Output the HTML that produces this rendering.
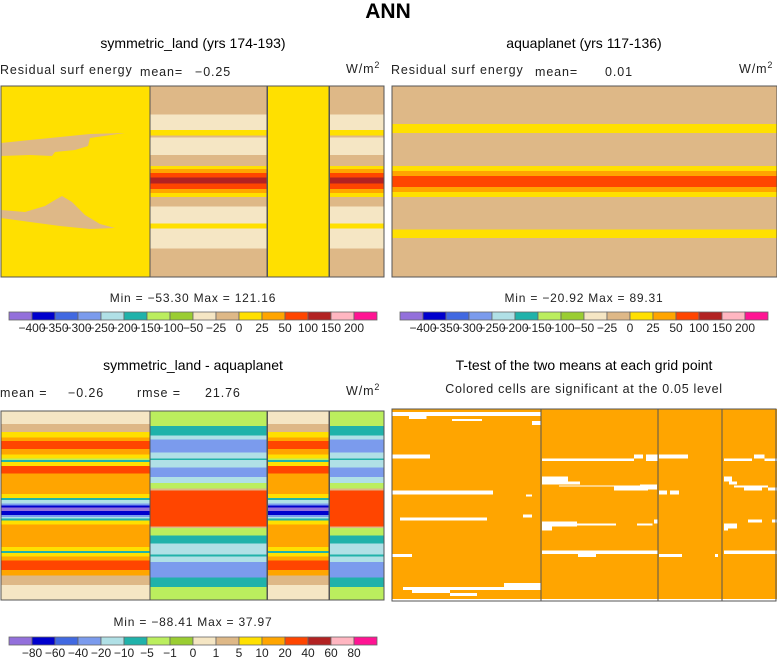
<!DOCTYPE html>
<html><head><meta charset="utf-8"><style>
html,body{margin:0;padding:0;background:#fff;}
svg{display:block;font-family:"Liberation Sans",sans-serif;}
</style></head><body>
<svg id="fig" width="777" height="660" viewBox="0 0 777 660" xmlns="http://www.w3.org/2000/svg">
<text x="388" y="18" text-anchor="middle" font-size="21" font-weight="bold">ANN</text>
<text x="193" y="48" text-anchor="middle" font-size="14">symmetric_land (yrs 174-193)</text>
<text x="0" y="74" font-size="12.5" letter-spacing="0.9" fill="#222">Residual surf energy</text>
<text x="140" y="76" font-size="12.5" letter-spacing="0.9" fill="#222">mean=</text>
<text x="195" y="76" font-size="12.5" letter-spacing="0.9" fill="#222">−0.25</text>
<text x="346" y="73" font-size="12.5" letter-spacing="0.9" fill="#222">W/m<tspan dy="-5" font-size="9">2</tspan></text>
<text x="584" y="48" text-anchor="middle" font-size="14">aquaplanet (yrs 117-136)</text>
<text x="391" y="74" font-size="12.5" letter-spacing="0.9" fill="#222">Residual surf energy</text>
<text x="535" y="76" font-size="12.5" letter-spacing="0.9" fill="#222">mean=</text>
<text x="605" y="76" font-size="12.5" letter-spacing="0.9" fill="#222">0.01</text>
<text x="739" y="73" font-size="12.5" letter-spacing="0.9" fill="#222">W/m<tspan dy="-5" font-size="9">2</tspan></text>
<text x="193" y="370" text-anchor="middle" font-size="14">symmetric_land - aquaplanet</text>
<text x="0" y="397" font-size="12.5" letter-spacing="0.9" fill="#222">mean =</text>
<text x="68" y="397" font-size="12.5" letter-spacing="0.9" fill="#222">−0.26</text>
<text x="137" y="397" font-size="12.5" letter-spacing="0.9" fill="#222">rmse =</text>
<text x="205" y="397" font-size="12.5" letter-spacing="0.9" fill="#222">21.76</text>
<text x="346" y="395" font-size="12.5" letter-spacing="0.9" fill="#222">W/m<tspan dy="-5" font-size="9">2</tspan></text>
<text x="584" y="370" text-anchor="middle" font-size="14">T-test of the two means at each grid point</text>
<text x="584" y="393" text-anchor="middle" font-size="12.5" letter-spacing="0.7" fill="#222">Colored cells are significant at the 0.05 level</text>
<text x="193" y="302" text-anchor="middle" font-size="12" letter-spacing="0.8" fill="#222">Min = −53.30 Max = 121.16</text>
<text x="584" y="302" text-anchor="middle" font-size="12" letter-spacing="0.8" fill="#222">Min = −20.92 Max =  89.31</text>
<text x="193" y="626" text-anchor="middle" font-size="12" letter-spacing="0.8" fill="#222">Min = −88.41 Max =  37.97</text>
<g id="maps"></g>
</svg>
<script>
const palette = ["#9370DB","#0000CD","#4169E1","#7B9BED","#B0E0E6","#20B2AA","#BBEE5E","#9ACD32","#F5E6C4","#DEB887","#FFE000","#FFA500","#FF4500","#B22222","#FFB6C1","#FF1493"];
const levelsTop = ["-400","-350","-300","-250","-200","-150","-100","-50","-25","0","25","50","100","150","200"];
const levelsDiff = ["-80","-60","-40","-20","-10","-5","-1","0","1","5","10","20","40","60","80"];
// bands: [startFrac, endFrac, colorIndex]
const oceanTopBands = [[0,0.15,9],[0.15,0.23,8],[0.23,0.26,10],[0.26,0.27,9],[0.27,0.36,8],[0.36,0.42,9],[0.42,0.435,10],[0.435,0.455,11],[0.455,0.48,12],[0.48,0.51,13],[0.51,0.54,12],[0.54,0.56,11],[0.56,0.58,10],[0.58,0.63,9],[0.63,0.72,8],[0.72,0.745,10],[0.745,0.85,8],[0.85,1,9]];
const landTopBands = [[0,1,10]];
const aquaBands = [[0,0.2,9],[0.2,0.245,10],[0.245,0.42,9],[0.42,0.445,10],[0.445,0.47,11],[0.47,0.53,12],[0.53,0.555,11],[0.555,0.58,10],[0.58,0.75,9],[0.75,0.795,10],[0.795,1,9]];
const landDiffBands = [[0,0.07,8],[0.07,0.11,9],[0.11,0.14,10],[0.14,0.16,11],[0.16,0.2,12],[0.2,0.23,11],[0.23,0.25,10],[0.25,0.26,6],[0.26,0.27,5],[0.27,0.29,10],[0.29,0.33,12],[0.33,0.44,11],[0.44,0.46,10],[0.46,0.47,5],[0.47,0.49,4],[0.49,0.5,3],[0.5,0.51,1],[0.51,0.53,0],[0.53,0.55,1],[0.55,0.56,3],[0.56,0.57,4],[0.57,0.58,5],[0.58,0.6,10],[0.6,0.72,11],[0.72,0.74,10],[0.74,0.75,5],[0.75,0.77,10],[0.77,0.79,11],[0.79,0.84,12],[0.84,0.87,11],[0.87,0.92,9],[0.92,1,8]];
const oceanDiffBands = [[0,0.08,6],[0.08,0.13,5],[0.13,0.15,4],[0.15,0.22,3],[0.22,0.25,4],[0.25,0.26,5],[0.26,0.3,4],[0.3,0.35,3],[0.35,0.38,4],[0.38,0.41,6],[0.41,0.42,9],[0.42,0.61,12],[0.61,0.62,9],[0.62,0.66,6],[0.66,0.7,5],[0.7,0.76,4],[0.76,0.77,5],[0.77,0.8,4],[0.8,0.88,3],[0.88,0.93,5],[0.93,1,6]];
// segment boundaries as fraction of panel width: land, ocean, land, ocean
const segFracs = [0,0.389,0.695,0.857,1];
// t-test insignificant (white) cells: [x0frac,x1frac,y0frac,y1frac]
const whiteCells = [[0,0.387,0.016,0.037],[0.044,0.09,0.037,0.052],[0.156,0.234,0.052,0.063],[0.364,0.387,0.063,0.084],[0,0.099,0.236,0.257],[0.39,0.629,0.257,0.272],[0.629,0.652,0.236,0.257],[0.66,0.69,0.236,0.272],[0.694,0.769,0.236,0.257],[0.862,0.935,0.257,0.272],[0.94,0.967,0.236,0.257],[0.967,1,0.257,0.272],[0,0.262,0.424,0.445],[0.348,0.364,0.445,0.455],[0.39,0.457,0.351,0.377],[0.39,0.488,0.377,0.393],[0.434,0.665,0.398,0.403],[0.577,0.665,0.403,0.424],[0.644,0.688,0.393,0.419],[0.694,0.714,0.424,0.445],[0.722,0.745,0.424,0.445],[0.862,0.883,0.351,0.377],[0.875,0.896,0.377,0.393],[0.888,0.977,0.398,0.408],[0.914,0.961,0.408,0.424],[0.977,1,0.408,0.424],[0.021,0.247,0.565,0.581],[0.34,0.364,0.55,0.565],[0.39,0.481,0.586,0.613],[0.39,0.416,0.613,0.634],[0.429,0.582,0.597,0.607],[0.636,0.676,0.597,0.607],[0.681,0.691,0.576,0.597],[0.862,0.896,0.597,0.623],[0.862,0.873,0.623,0.634],[0.925,0.961,0.576,0.591],[0.987,1,0.576,0.591],[0,0.052,0.754,0.77],[0.39,0.691,0.738,0.754],[0.483,0.53,0.754,0.77],[0.694,0.753,0.754,0.77],[0.839,0.847,0.754,0.77],[0.862,1,0.738,0.754],[0.029,0.387,0.927,0.942],[0.291,0.387,0.906,0.927],[0.052,0.151,0.942,0.958],[0.151,0.221,0.958,0.974],[0,1,0.99,1]];

const NS = "http://www.w3.org/2000/svg";
const root = document.getElementById("maps");
function mk(tag, attrs, parent){ const e=document.createElementNS(NS,tag); for(const k in attrs) e.setAttribute(k,attrs[k]); (parent||root).appendChild(e); return e; }

function drawPanel(px, py, pw, ph, bandsBySeg, name){
  const g = mk("g", {"shape-rendering":"crispEdges"});
  
  
  for(let s=0;s<4;s++){
    const x0 = px + segFracs[s]*pw, x1 = px + segFracs[s+1]*pw;
    const bands = bandsBySeg[s];
    for(const b of bands){
      const r = mk("rect", {x:x0, y:py+b[0]*ph, width:x1-x0+0.6, height:(b[1]-b[0])*ph+0.6, fill:palette[b[2]]}, g);
      
      
    }
  }
  return g;
}
function frame(px,py,pw,ph,g){
  mk("rect",{x:px,y:py,width:pw,height:ph,fill:"none",stroke:"#555","stroke-width":1.2},g);
  for(let s=1;s<4;s++){ const x=px+segFracs[s]*pw; mk("line",{x1:x,y1:py,x2:x,y2:py+ph,stroke:"#555","stroke-width":1.2},g); }
}

// Panel 1
const g1 = drawPanel(1,86,383,191,[landTopBands,oceanTopBands,landTopBands,oceanTopBands],"panel1-map");
const p1a = mk("path",{"shape-rendering":"auto",d:"M1,143 L30,140 L60,137 L90,134 L125,133 L90,138 L88,146 L75,150 L55,152 L52,156 L30,155 L1,156 Z M1,210 L25,212 L45,206 L55,200 L62,196 L72,202 L85,215 L100,224 L115,228 L90,229 L60,226 L30,222 L1,218 Z",fill:palette[9]},g1);


frame(1,86,383,191,g1);

// Panel 2
const g2 = drawPanel(392,86,385,191,[aquaBands,aquaBands,aquaBands,aquaBands],"panel2-map");
mk("rect",{x:392,y:86,width:385,height:191,fill:"none",stroke:"#555","stroke-width":1.2},g2);

// Panel 3
const g3 = drawPanel(1,411,383,189,[landDiffBands,oceanDiffBands,landDiffBands,oceanDiffBands],"panel3-map");
frame(1,411,383,189,g3);

// Panel 4
const g4 = mk("g",{"shape-rendering":"crispEdges"});


mk("rect",{x:392,y:409,width:385,height:192,fill:palette[11]},g4);
for(const c of whiteCells){
  const r = mk("rect",{x:392+c[0]*385,y:409+c[2]*192,width:(c[1]-c[0])*385,height:(c[3]-c[2])*192,fill:"#fff"},g4);
  
  
}
mk("rect",{x:392,y:409,width:384,height:192,fill:"none",stroke:"#555","stroke-width":1.2},g4);
[541,658,722].forEach(x=>mk("line",{x1:x,y1:409,x2:x,y2:601,stroke:"#555","stroke-width":1.2},g4));

// Colorbars
function colorbar(x0,y0,labels,name){
  const g = mk("g",{});
  
  
  const bw = 23;
  palette.forEach((c,i)=>{
    const r = mk("rect",{x:x0+i*bw,y:y0,width:bw,height:8,fill:c,stroke:"#666","stroke-width":0.8},g);
    
    
  });
  labels.forEach((l,i)=>{
    const t = mk("text",{x:x0+(i+1)*bw,y:y0+20,"text-anchor":"middle","font-size":12,fill:"#222"},g);
    t.textContent = l.replace("-","\u2212");
    
    
  });
}
colorbar(9,312,levelsTop,"colorbar-top-left");
colorbar(400,312,levelsTop,"colorbar-top-right");
colorbar(9,637,levelsDiff,"colorbar-diff");
</script>
</body></html>
